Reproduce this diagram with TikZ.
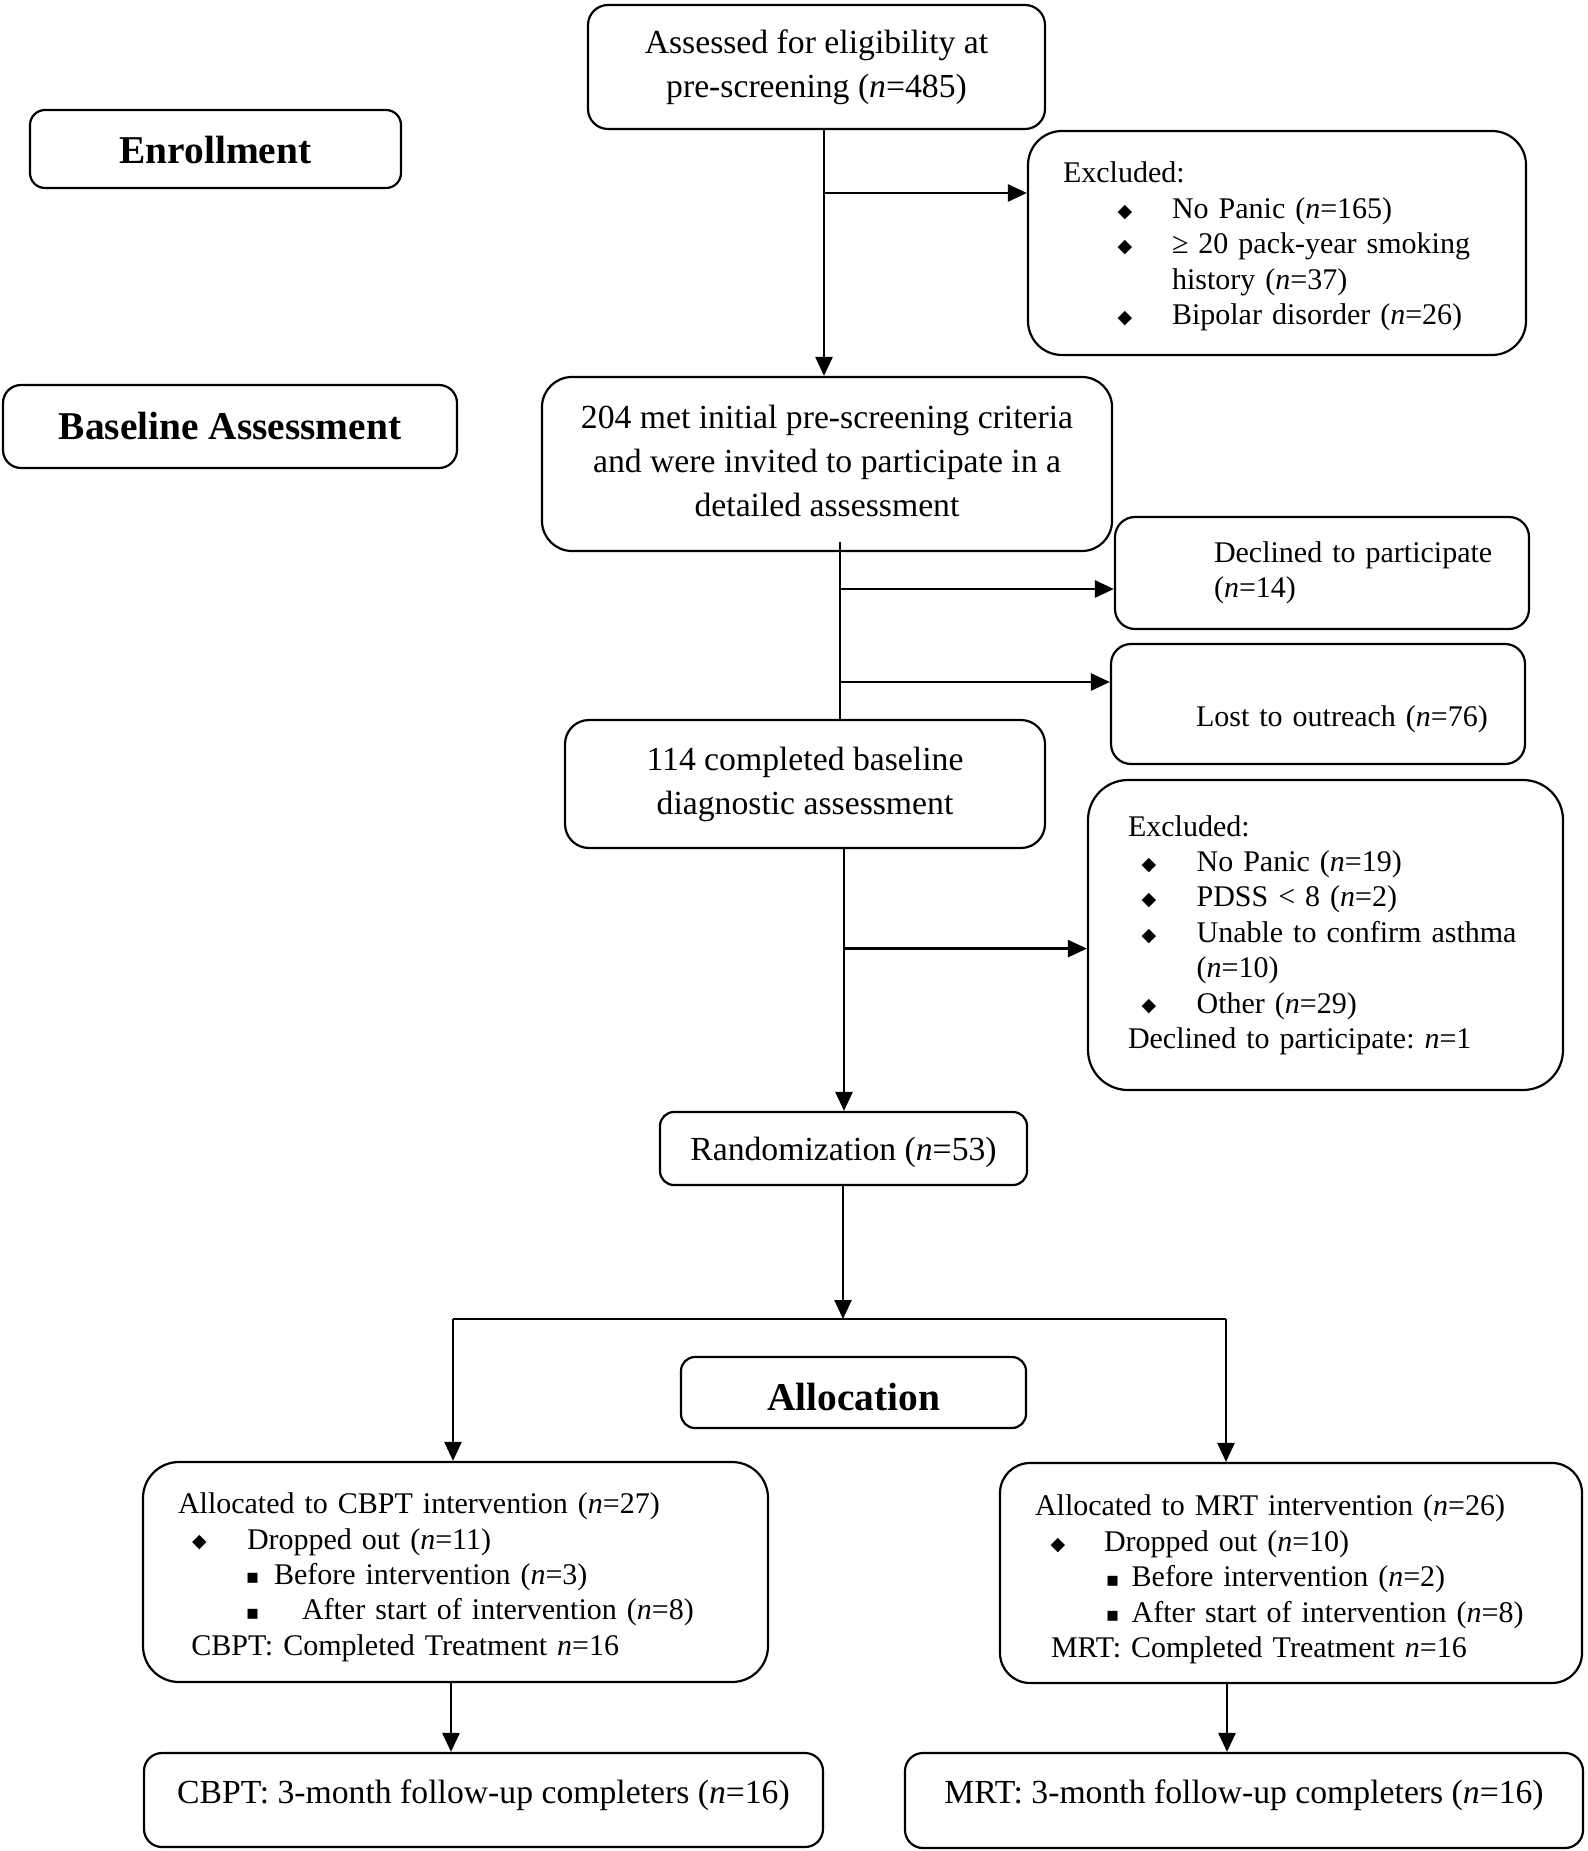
\documentclass[tikz,border=0pt]{standalone}
\usepackage{fontspec}
\setmainfont{Liberation Serif}
\newfontfamily\symf{DejaVu Sans}
\usetikzlibrary{arrows.meta}
\frenchspacing
\newcommand\dia{\raisebox{0.6pt}{\fontsize{9.5}{9.5}\symf ◆}}
\newcommand\sqb{\raisebox{0.3pt}{\fontsize{10}{10}\symf ▪}}
\newcommand\txat[2]{\hspace*{#1}#2}
\newcommand\bulat[4]{\makebox[#2][l]{\hspace*{\dimexpr#1-5pt\relax}\makebox[10pt]{#3}}#4}
\tikzset{
  box/.style={draw, line width=1.1pt, inner sep=0pt, align=center},
  fbig/.style={font=\fontsize{16.85pt}{22pt}\selectfont\frenchspacing},
  fsmall/.style={font=\fontsize{15pt}{17.7pt}\selectfont\frenchspacing},
  fhead/.style={font=\fontsize{19.7pt}{24pt}\selectfont\bfseries},
  lbox/.style={box, fsmall, align=left, text width=#1, minimum width=#1},
  base at/.style={text height=#1, text depth=0pt},
  arr/.style={-{Triangle[length=9.5pt,width=8.5pt]}, line width=1.3pt},
  ln/.style={line width=1.3pt}
}
\begin{document}
\begin{tikzpicture}[x=0.5pt,y=-0.5pt]
\fill[white] (0,0) rectangle (1587,1851);
\useasboundingbox (0,0) rectangle (1587,1851);

% headings
\node[box, fhead, base at=14.6pt, rounded corners=7.5pt, minimum width=185.5pt, minimum height=39pt] (enroll) at (215.5,149) {Enrollment};
\node[box, fhead, rounded corners=9pt, minimum width=227pt, minimum height=41.5pt] (base) at (230,426.5) {Baseline Assessment};
\node[box, fhead, base at=17.5pt, rounded corners=7pt, minimum width=172.5pt, minimum height=35.5pt] (alloc) at (853.5,1392.5) {Allocation};

% main flow
\node[box, fbig, rounded corners=10pt, minimum width=228.5pt, minimum height=62pt] (assess) at (816.5,67)
  {Assessed for eligibility at\\pre-screening (\textit{n}=485)};
\node[box, fbig, rounded corners=15pt, minimum width=285pt, minimum height=87pt] (b204) at (827,464)
  {\raisebox{1.8pt}{\begin{tabular}{@{}c@{}}204 met initial pre-screening criteria\\and were invited to participate in a\\detailed assessment\end{tabular}}};
\node[box, fbig, rounded corners=12pt, minimum width=240pt, minimum height=64pt] (b114) at (805,784)
  {114 completed baseline\\diagnostic assessment};
\node[box, fbig, base at=12.3pt, rounded corners=7pt, minimum width=183.5pt, minimum height=36.5pt] (rand) at (843.5,1148.5)
  {Randomization (\textit{n}=53)};

% side boxes
\node[lbox=249pt, minimum height=112pt, rounded corners=17pt] (excl1) at (1277,243)
  {\rule{0pt}{13.8pt}\txat{17.5pt}{Excluded:}\\
   \bulat{48.5pt}{72pt}{\dia}{No Panic (\textit{n}=165)}\\
   \bulat{48.5pt}{72pt}{\dia}{≥ 20 pack-year smoking}\\
   \txat{72pt}{history (\textit{n}=37)}\\
   \bulat{48.5pt}{72pt}{\dia}{Bipolar disorder (\textit{n}=26)}};
\node[lbox=207pt, minimum height=56pt, rounded corners=10pt] (declined) at (1322,573)
  {\txat{49.5pt}{Declined to participate}\\
   \txat{49.5pt}{(\textit{n}=14)}};
\node[lbox=207pt, minimum height=60pt, rounded corners=10pt] (lost) at (1318,704)
  {\rule{0pt}{7.6pt}\\
   \txat{42.5pt}{Lost to outreach (\textit{n}=76)}};
\node[lbox=237.5pt, minimum height=155pt, rounded corners=20pt] (excl2) at (1325.5,935)
  {\txat{20pt}{Excluded:}\\
   \bulat{30.5pt}{54.3pt}{\dia}{No Panic (\textit{n}=19)}\\
   \bulat{30.5pt}{54.3pt}{\dia}{PDSS < 8 (\textit{n}=2)}\\
   \bulat{30.5pt}{54.3pt}{\dia}{Unable to confirm asthma}\\
   \txat{54.3pt}{(\textit{n}=10)}\\
   \bulat{30.5pt}{54.3pt}{\dia}{Other (\textit{n}=29)}\\
   \txat{20pt}{Declined to participate: \textit{n}=1}};

% arms
\node[lbox=312.5pt, minimum height=110pt, rounded corners=18pt] (cbpt) at (455.5,1572)
  {\rule{0pt}{15.6pt}\txat{17.5pt}{Allocated to CBPT intervention (\textit{n}=27)}\\
   \bulat{28.25pt}{52pt}{\dia}{Dropped out (\textit{n}=11)}\\
   \bulat{54.8pt}{65.5pt}{\sqb}{Before intervention (\textit{n}=3)}\\
   \bulat{54.8pt}{79.5pt}{\sqb}{After start of intervention (\textit{n}=8)}\\
   \txat{24.2pt}{CBPT: Completed Treatment \textit{n}=16}};
\node[lbox=291pt, minimum height=110pt, rounded corners=15pt] (mrt) at (1291,1573)
  {\rule{0pt}{16.8pt}\txat{17.5pt}{Allocated to MRT intervention (\textit{n}=26)}\\
   \bulat{29pt}{52pt}{\dia}{Dropped out (\textit{n}=10)}\\
   \bulat{56.3pt}{65.85pt}{\sqb}{Before intervention (\textit{n}=2)}\\
   \bulat{56.3pt}{65.85pt}{\sqb}{After start of intervention (\textit{n}=8)}\\
   \txat{25.5pt}{MRT: Completed Treatment \textit{n}=16}};
\node[box, fbig, base at=3.2pt, rounded corners=9pt, minimum width=339.5pt, minimum height=47pt] (cbptf) at (483.5,1800)
  {CBPT: 3-month follow-up completers (\textit{n}=16)};
\node[box, fbig, base at=3.2pt, rounded corners=9pt, minimum width=339pt, minimum height=47.5pt] (mrtf) at (1244,1800.5)
  {MRT: 3-month follow-up completers (\textit{n}=16)};

% junction coordinates
\coordinate (t1) at (824,193);
\coordinate (t2a) at (840,589);
\coordinate (t2b) at (840,682);
\coordinate (t3) at (844,948.6);
\coordinate (split) at (843,1319);
\coordinate (cl) at (453,1319);
\coordinate (cr) at (1226,1319);
\coordinate (d1) at (451,1720);
\coordinate (d2) at (1227,1720);

% connectors
\draw[arr] (assess.south -| t1) -- (b204.north -| t1);
\draw[arr] (t1) -- (excl1.west |- t1);
\draw[ln] ([yshift=5pt]b204.south -| t2a) -- (b114.north -| t2a);
\draw[arr] (t2a) -- (declined.west |- t2a);
\draw[arr] (t2b) -- (lost.west |- t2b);
\draw[arr] (b114.south -| t3) -- (rand.north -| t3);
\draw[arr] (t3) -- (excl2.west |- t3);
\draw[arr] (rand.south -| split) -- (split);
\draw[ln] (cl) -- (cr);
\draw[arr] (cl) -- (cbpt.north -| cl);
\draw[arr] (cr) -- (mrt.north -| cr);
\draw[arr] (cbpt.south -| d1) -- (cbptf.north -| d1);
\draw[arr] (mrt.south -| d2) -- (mrtf.north -| d2);
\end{tikzpicture}
\end{document}
